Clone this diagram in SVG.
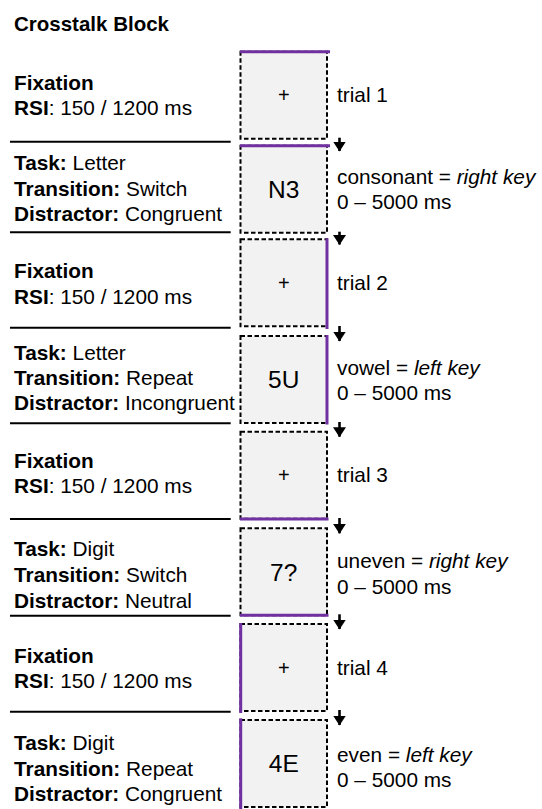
<svg xmlns="http://www.w3.org/2000/svg" width="542" height="809" viewBox="0 0 542 809">
<style>
text{font-family:"Liberation Sans",Arial,Helvetica,sans-serif;fill:#000}
.lbl{font-size:20.8px}
.b{font-weight:bold}
.i{font-style:italic}
.ttl{font-size:20.5px;font-weight:bold}
.stim{font-size:24.5px;text-anchor:middle}
.plus{font-size:20px;text-anchor:middle}
.box{fill:#f2f2f2;stroke:#000;stroke-width:2;stroke-dasharray:4.5 2.5}
.hl{stroke:#7030a0;stroke-width:3;fill:none}
.sep{stroke:#000;stroke-width:2}
.arr{stroke:#000;stroke-width:2.6}
</style>
<defs>
<marker id="ah" markerWidth="10" markerHeight="13" refX="9.5" refY="6.5" orient="auto" markerUnits="userSpaceOnUse" viewBox="0 0 10 13">
<polygon points="0,0 10,6.5 0,13" fill="#000"/>
</marker>
</defs>
<rect width="542" height="809" fill="#fff"/>
<text class="ttl" x="14" y="31">Crosstalk Block</text>

<g id="separators">
<line class="sep" x1="10" y1="141.7" x2="230.7" y2="141.7"/>
<line class="sep" x1="10" y1="232.3" x2="230.7" y2="232.3"/>
<line class="sep" x1="10" y1="327.7" x2="230.7" y2="327.7"/>
<line class="sep" x1="10" y1="423.3" x2="230.7" y2="423.3"/>
<line class="sep" x1="10" y1="519" x2="230.7" y2="519"/>
<line class="sep" x1="10" y1="615.7" x2="230.7" y2="615.7"/>
<line class="sep" x1="10" y1="711.7" x2="230.7" y2="711.7"/>
</g>

<g id="trial1-fixation">
<rect class="box" x="240.5" y="51.7" width="86.5" height="87"/>
<line class="hl" x1="240" y1="51.7" x2="330" y2="51.7"/>
<text class="plus" x="283.75" y="102.2">+</text>
<text class="lbl" x="14" y="90"><tspan class="b">Fixation</tspan></text>
<text class="lbl" x="14" y="115"><tspan class="b">RSI</tspan>: 150 / 1200 ms</text>
<text class="lbl" x="337" y="102.2">trial 1</text>
</g>

<g id="trial1-stimulus">
<rect class="box" x="240.5" y="145.7" width="86.5" height="87"/>
<line class="hl" x1="240" y1="145.7" x2="330" y2="145.7"/>
<text class="stim" x="283.75" y="197.8">N3</text>
<text class="lbl" x="14" y="170"><tspan class="b">Task:</tspan> Letter</text>
<text class="lbl" x="14" y="195.7"><tspan class="b">Transition:</tspan> Switch</text>
<text class="lbl" x="14" y="220.7"><tspan class="b">Distractor:</tspan> Congruent</text>
<text class="lbl" x="337" y="184">consonant = <tspan class="i">right key</tspan></text>
<text class="lbl" x="337" y="209">0 – 5000 ms</text>
</g>

<g id="trial2-fixation">
<rect class="box" x="240.5" y="239.3" width="86.5" height="87"/>
<line class="hl" x1="327" y1="238.3" x2="327" y2="329"/>
<text class="plus" x="283.75" y="290.3">+</text>
<text class="lbl" x="14" y="278.2"><tspan class="b">Fixation</tspan></text>
<text class="lbl" x="14" y="304"><tspan class="b">RSI</tspan>: 150 / 1200 ms</text>
<text class="lbl" x="337" y="290.3">trial 2</text>
</g>

<g id="trial2-stimulus">
<rect class="box" x="240.5" y="336" width="86.5" height="87"/>
<line class="hl" x1="327" y1="335" x2="327" y2="424.5"/>
<text class="stim" x="283.75" y="388.3">5U</text>
<text class="lbl" x="14" y="360"><tspan class="b">Task:</tspan> Letter</text>
<text class="lbl" x="14" y="385"><tspan class="b">Transition:</tspan> Repeat</text>
<text class="lbl" x="14" y="410"><tspan class="b">Distractor:</tspan> Incongruent</text>
<text class="lbl" x="337" y="375">vowel = <tspan class="i">left key</tspan></text>
<text class="lbl" x="337" y="400">0 – 5000 ms</text>
</g>

<g id="trial3-fixation">
<rect class="box" x="240.5" y="431.7" width="86.5" height="87"/>
<line class="hl" x1="240" y1="519" x2="328.5" y2="519"/>
<text class="plus" x="283.75" y="482.2">+</text>
<text class="lbl" x="14" y="468.3"><tspan class="b">Fixation</tspan></text>
<text class="lbl" x="14" y="493.3"><tspan class="b">RSI</tspan>: 150 / 1200 ms</text>
<text class="lbl" x="337" y="482.2">trial 3</text>
</g>

<g id="trial3-stimulus">
<rect class="box" x="240.5" y="528.3" width="86.5" height="87"/>
<line class="hl" x1="240" y1="615.3" x2="328.5" y2="615.3"/>
<text class="stim" x="283.75" y="581.3">7?</text>
<text class="lbl" x="14" y="555.6"><tspan class="b">Task:</tspan> Digit</text>
<text class="lbl" x="14" y="581.6"><tspan class="b">Transition:</tspan> Switch</text>
<text class="lbl" x="14" y="607.5"><tspan class="b">Distractor:</tspan> Neutral</text>
<text class="lbl" x="337" y="568">uneven = <tspan class="i">right key</tspan></text>
<text class="lbl" x="337" y="594">0 – 5000 ms</text>
</g>

<g id="trial4-fixation">
<rect class="box" x="240.5" y="624" width="86.5" height="87"/>
<line class="hl" x1="240.7" y1="623" x2="240.7" y2="713"/>
<text class="plus" x="283.75" y="674.5">+</text>
<text class="lbl" x="14" y="663.3"><tspan class="b">Fixation</tspan></text>
<text class="lbl" x="14" y="688.3"><tspan class="b">RSI</tspan>: 150 / 1200 ms</text>
<text class="lbl" x="337" y="674.5">trial 4</text>
</g>

<g id="trial4-stimulus">
<rect class="box" x="240.5" y="720" width="86.5" height="87"/>
<line class="hl" x1="240.7" y1="718.3" x2="240.7" y2="809"/>
<text class="stim" x="283.75" y="772.3">4E</text>
<text class="lbl" x="14" y="750"><tspan class="b">Task:</tspan> Digit</text>
<text class="lbl" x="14" y="775.7"><tspan class="b">Transition:</tspan> Repeat</text>
<text class="lbl" x="14" y="800.7"><tspan class="b">Distractor:</tspan> Congruent</text>
<text class="lbl" x="337" y="762">even = <tspan class="i">left key</tspan></text>
<text class="lbl" x="337" y="787">0 – 5000 ms</text>
</g>

<g id="connectors">
<line class="arr" x1="339.5" y1="137.7" x2="339.5" y2="151" marker-end="url(#ah)"/>
<line class="arr" x1="339.5" y1="231.7" x2="339.5" y2="244.5" marker-end="url(#ah)"/>
<line class="arr" x1="339.5" y1="326" x2="339.5" y2="341" marker-end="url(#ah)"/>
<line class="arr" x1="339.5" y1="422" x2="339.5" y2="436.7" marker-end="url(#ah)"/>
<line class="arr" x1="339.5" y1="518" x2="339.5" y2="533.3" marker-end="url(#ah)"/>
<line class="arr" x1="339.5" y1="614.3" x2="339.5" y2="629" marker-end="url(#ah)"/>
<line class="arr" x1="339.5" y1="710" x2="339.5" y2="725" marker-end="url(#ah)"/>
</g>
</svg>
